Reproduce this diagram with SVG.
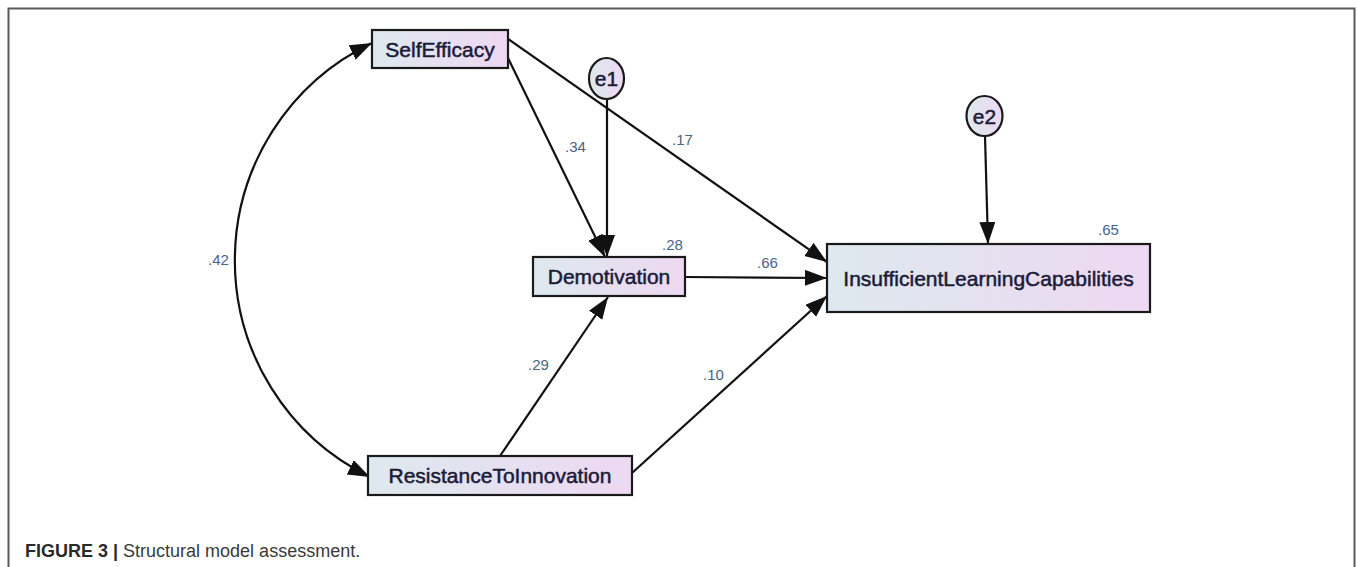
<svg xmlns="http://www.w3.org/2000/svg" width="1357" height="567" viewBox="0 0 1357 567">
<defs>
<linearGradient id="g" x1="0" y1="0" x2="1" y2="0">
<stop offset="0" stop-color="#dde9ee"/>
<stop offset="1" stop-color="#eed8f2"/>
</linearGradient>
<marker id="ah" markerUnits="userSpaceOnUse" markerWidth="24" markerHeight="18" refX="22" refY="8" orient="auto-start-reverse" viewBox="0 0 24 18">
<path d="M0,0 L22,8 L0,16 z" fill="#111"/>
</marker>
<style>
.box{fill:url(#g);stroke:#1a1a1a;stroke-width:2.2}
.lbl{font-family:"Liberation Sans",Arial,sans-serif;font-size:21px;fill:#1b1b38;text-anchor:middle;stroke:#1b1b38;stroke-width:0.5}
.num{font-family:"Liberation Sans",Arial,sans-serif;font-size:15px;fill:#4a6484}
.edge{stroke:#111;stroke-width:2.2;fill:none;marker-end:url(#ah)}
.frame{stroke:#5a5a5a;stroke-width:2;fill:none}
</style>
</defs>
<rect width="1357" height="567" fill="#fff"/>
<path class="frame" d="M8.5,567 L8.5,8.5 L1354.5,8.5 L1354.5,567"/>

<g id="connectors">
<path class="edge" d="M508,58 L605,257"/>
<path class="edge" d="M607,99 L607,257"/>
<path class="edge" d="M508,39 L827,262"/>
<path class="edge" d="M685,277 L827,278"/>
<path class="edge" d="M500,456 L608,297"/>
<path class="edge" d="M632,473 L827,296"/>
<path class="edge" d="M985,136 L988,244"/>
<path class="edge" d="M372,43 A241,241 0 0 0 370,477" marker-start="url(#ah)"/>
<text class="num" x="208" y="265">.42</text>
<text class="num" x="565" y="152">.34</text>
<text class="num" x="672" y="145">.17</text>
<text class="num" x="757" y="268">.66</text>
<text class="num" x="528" y="370">.29</text>
<text class="num" x="703" y="380">.10</text>
</g>

<g id="SelfEfficacy">
<rect class="box" x="372" y="30" width="136" height="38"/>
<text class="lbl" x="440" y="56.5">SelfEfficacy</text>
</g>
<g id="e1">
<ellipse class="box" cx="606.5" cy="78.5" rx="17.5" ry="20.5"/>
<text class="lbl" x="606.5" y="86">e1</text>
</g>
<g id="Demotivation">
<rect class="box" x="533" y="257" width="152" height="39"/>
<text class="lbl" x="609" y="284">Demotivation</text>
<text class="num" x="662" y="250">.28</text>
</g>
<g id="e2">
<ellipse class="box" cx="984.5" cy="116" rx="18" ry="20"/>
<text class="lbl" x="984.5" y="123.5">e2</text>
</g>
<g id="InsufficientLearningCapabilities">
<rect class="box" x="827" y="244" width="323" height="68"/>
<text class="lbl" x="988.5" y="285.5">InsufficientLearningCapabilities</text>
<text class="num" x="1098" y="235">.65</text>
</g>
<g id="ResistanceToInnovation">
<rect class="box" x="368" y="456" width="264" height="39"/>
<text class="lbl" x="500" y="483">ResistanceToInnovation</text>
</g>

<text x="25" y="557" font-family="'Liberation Sans',Arial,sans-serif" font-size="18" fill="#3a3a3a"><tspan font-weight="bold" fill="#2a2a2a">FIGURE 3 | </tspan>Structural model assessment.</text>
</svg>
